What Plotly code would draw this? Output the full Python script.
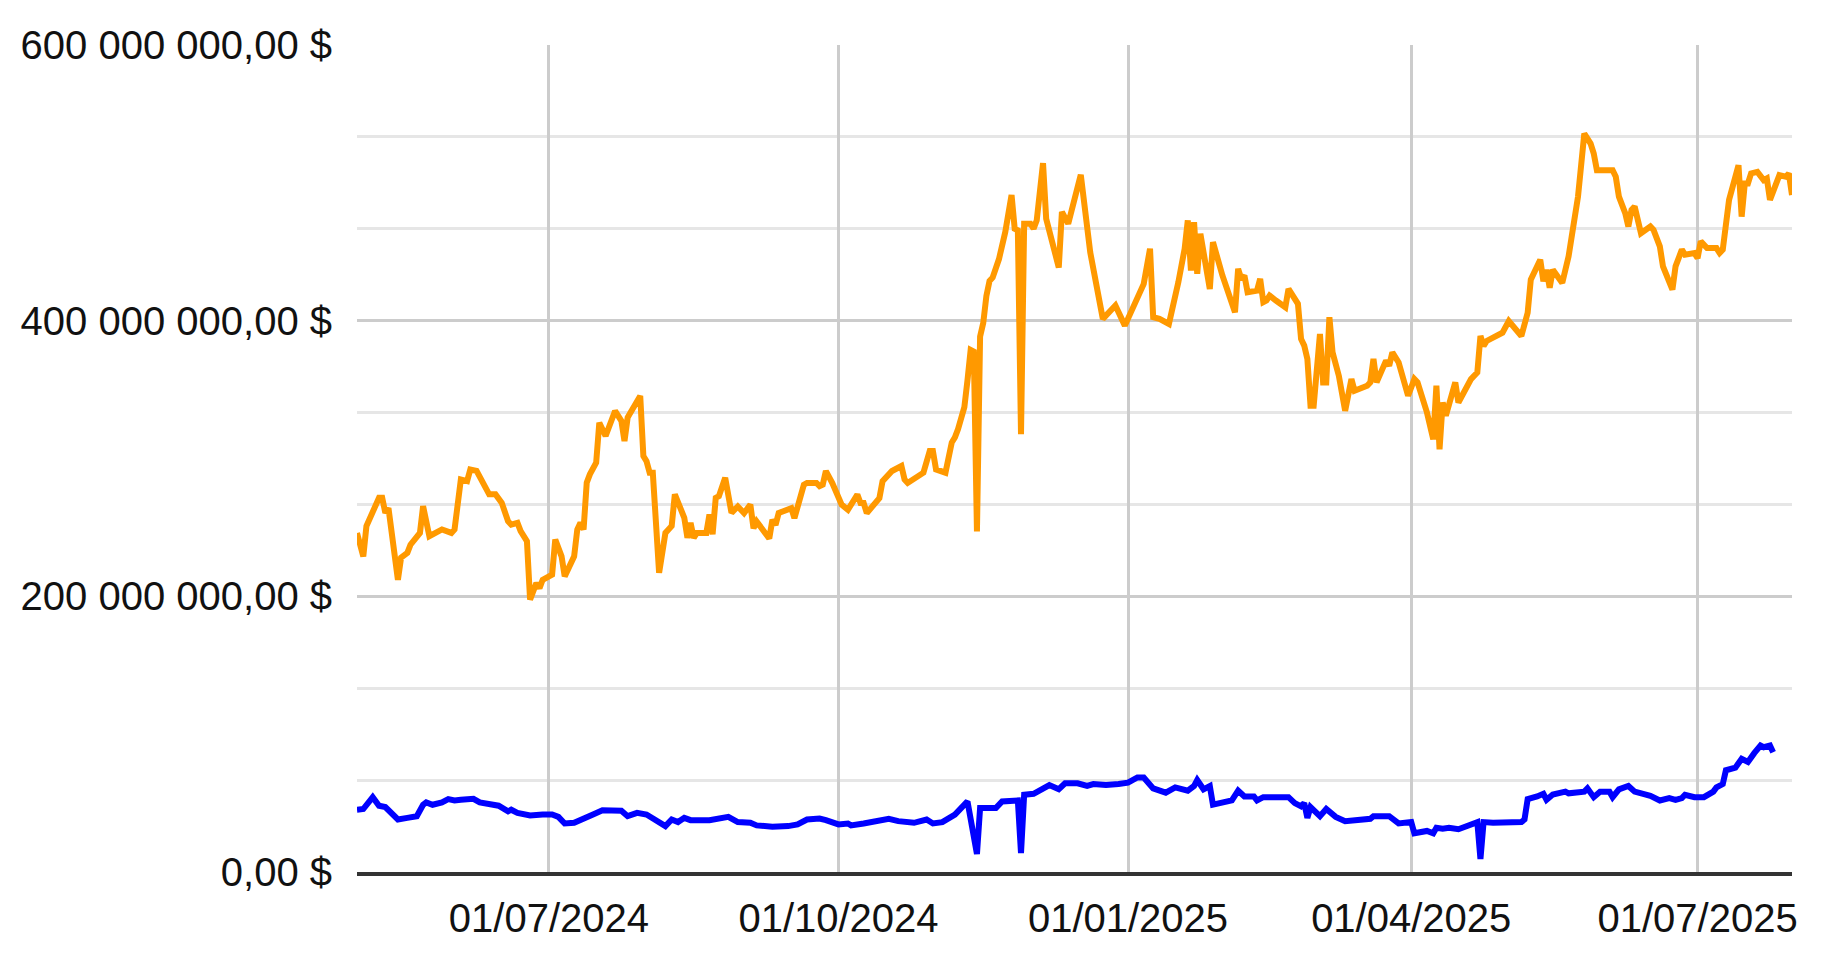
import plotly.graph_objects as go

# orange series (values in millions of $)
orange_dates = [
    "2024-05-01", "2024-05-03", "2024-05-04", "2024-05-06", "2024-05-08", "2024-05-09",
    "2024-05-10", "2024-05-11", "2024-05-14", "2024-05-15", "2024-05-17", "2024-05-18",
    "2024-05-21", "2024-05-22", "2024-05-23", "2024-05-24", "2024-05-28", "2024-05-31",
    "2024-06-01", "2024-06-03", "2024-06-05", "2024-06-06", "2024-06-08", "2024-06-10",
    "2024-06-12", "2024-06-14", "2024-06-16", "2024-06-18", "2024-06-19", "2024-06-21",
    "2024-06-22", "2024-06-24", "2024-06-25", "2024-06-27", "2024-06-28", "2024-06-29",
    "2024-07-02", "2024-07-03", "2024-07-05", "2024-07-06", "2024-07-09", "2024-07-10",
    "2024-07-11", "2024-07-12", "2024-07-13", "2024-07-14", "2024-07-16", "2024-07-17",
    "2024-07-18", "2024-07-19", "2024-07-22", "2024-07-24", "2024-07-25", "2024-07-26",
    "2024-07-30", "2024-07-31", "2024-08-01", "2024-08-02", "2024-08-03", "2024-08-05",
    "2024-08-07", "2024-08-09", "2024-08-10", "2024-08-12", "2024-08-13", "2024-08-14",
    "2024-08-15", "2024-08-16", "2024-08-17", "2024-08-20", "2024-08-21", "2024-08-22",
    "2024-08-23", "2024-08-24", "2024-08-26", "2024-08-28", "2024-08-30", "2024-09-01",
    "2024-09-03", "2024-09-04", "2024-09-05", "2024-09-09", "2024-09-10", "2024-09-11",
    "2024-09-12", "2024-09-16", "2024-09-17", "2024-09-20", "2024-09-21", "2024-09-24",
    "2024-09-25", "2024-09-26", "2024-09-27", "2024-09-29", "2024-10-02", "2024-10-04",
    "2024-10-07", "2024-10-08", "2024-10-09", "2024-10-10", "2024-10-14", "2024-10-15",
    "2024-10-16", "2024-10-18", "2024-10-21", "2024-10-22", "2024-10-23", "2024-10-28",
    "2024-10-30", "2024-10-31", "2024-11-01", "2024-11-04", "2024-11-06", "2024-11-07",
    "2024-11-08", "2024-11-10", "2024-11-11", "2024-11-12", "2024-11-13", "2024-11-14",
    "2024-11-15", "2024-11-16", "2024-11-17", "2024-11-18", "2024-11-19", "2024-11-21",
    "2024-11-23", "2024-11-25", "2024-11-26", "2024-11-27", "2024-11-28", "2024-11-29",
    "2024-12-01", "2024-12-02", "2024-12-03", "2024-12-05", "2024-12-06", "2024-12-10",
    "2024-12-11", "2024-12-13", "2024-12-17", "2024-12-20", "2024-12-24", "2024-12-28",
    "2024-12-31", "2025-01-03", "2025-01-06", "2025-01-08", "2025-01-09", "2025-01-11",
    "2025-01-14", "2025-01-17", "2025-01-19", "2025-01-20", "2025-01-21", "2025-01-22",
    "2025-01-23", "2025-01-24", "2025-01-26", "2025-01-27", "2025-01-28", "2025-01-31",
    "2025-02-04", "2025-02-05", "2025-02-06", "2025-02-07", "2025-02-08", "2025-02-11",
    "2025-02-12", "2025-02-13", "2025-02-14", "2025-02-15", "2025-02-17", "2025-02-20",
    "2025-02-21", "2025-02-24", "2025-02-25", "2025-02-26", "2025-02-27", "2025-02-28",
    "2025-03-01", "2025-03-03", "2025-03-04", "2025-03-05", "2025-03-06", "2025-03-07",
    "2025-03-09", "2025-03-11", "2025-03-13", "2025-03-14", "2025-03-18", "2025-03-19",
    "2025-03-20", "2025-03-21", "2025-03-24", "2025-03-25", "2025-03-26", "2025-03-28",
    "2025-03-31", "2025-04-02", "2025-04-03", "2025-04-06", "2025-04-08", "2025-04-09",
    "2025-04-10", "2025-04-11", "2025-04-12", "2025-04-15", "2025-04-16", "2025-04-20",
    "2025-04-22", "2025-04-23", "2025-04-24", "2025-04-25", "2025-04-30", "2025-05-02",
    "2025-05-06", "2025-05-08", "2025-05-09", "2025-05-12", "2025-05-13", "2025-05-14",
    "2025-05-15", "2025-05-16", "2025-05-19", "2025-05-21", "2025-05-22", "2025-05-24",
    "2025-05-26", "2025-05-28", "2025-05-29", "2025-05-30", "2025-06-04", "2025-06-05",
    "2025-06-06", "2025-06-08", "2025-06-09", "2025-06-10", "2025-06-11", "2025-06-13",
    "2025-06-16", "2025-06-17", "2025-06-19", "2025-06-20", "2025-06-23", "2025-06-24",
    "2025-06-26", "2025-06-27", "2025-06-30", "2025-07-01", "2025-07-02", "2025-07-04",
    "2025-07-07", "2025-07-08", "2025-07-09", "2025-07-11", "2025-07-14", "2025-07-15",
    "2025-07-16", "2025-07-17", "2025-07-18", "2025-07-20", "2025-07-22", "2025-07-23",
    "2025-07-24", "2025-07-27", "2025-07-29", "2025-07-30", "2025-07-31",
]
orange_values = [
    246, 229, 251, 262, 271.5, 271.5,
    260.6, 264, 212, 228, 231.5, 237.5,
    246, 265.4, 255.7, 243.6, 248.5, 246,
    248.5, 284.8, 283.6, 292, 291, 282.4,
    274, 274, 267.8, 254.5, 252, 253.3,
    247.3, 240, 197.6, 209.7, 206, 212,
    215.7, 241.2, 229, 214.5, 229, 248.5,
    253.3, 248.5, 282.4, 288.5, 297, 326,
    321, 316.3, 334.5, 327.3, 312.7, 329.7,
    345.4, 301.8, 298, 289.7, 289.7, 217,
    246, 251, 274, 262, 257, 242.4,
    253.3, 242.4, 246, 246, 259.4, 245,
    271.5, 272.7, 286, 260.6, 265.2, 260.4,
    266.5, 249.4, 254.3, 242, 255.5, 251.8,
    260.4, 264, 256.7, 281, 282.3, 282.3,
    280, 281, 290.9, 282.3, 266.5, 262.8,
    273.8, 267.7, 267.7, 260.4, 271.3, 283.5,
    286, 290.9, 294.5, 284.8, 282.3, 289.7,
    305.5, 305.5, 292.1, 289.7, 311.6, 315.3,
    321.4, 337.3, 356.8, 378.8, 377.6, 247,
    388.5, 398.3, 417.9, 428.9, 431.3, 444.7,
    464.3, 491.1, 466.7, 465.5, 317.7, 470.4,
    470.4, 466.7, 472.8, 514.3, 474, 438.6,
    478.9, 470.4, 505.8, 449.6, 401.3, 411,
    396.4, 411, 426.7, 452.2, 402.5, 401.3,
    397.6, 427.9, 452.2, 472.8, 436.4, 471.5,
    434, 463, 435.2, 423, 457, 432.8,
    406.1, 437.6, 430.3, 432.8, 420.6, 421.8,
    430.3, 413.4, 414.6, 418.2, 414.6, 409.7,
    423, 412.2, 386.7, 381.9, 372.2, 338.2,
    338.2, 390.3, 355.2, 355.2, 402.5, 377,
    360, 334.6, 357.6, 349.1, 352.8, 355.2,
    372.2, 355.2, 371, 367.3, 377, 369.7,
    345.5, 357.6, 355.2, 333.4, 314, 352.8,
    306.7, 340.6, 331, 355.2, 340.6, 357.6,
    362.4, 388.9, 381.6, 385.3, 391.3, 399.7,
    388.9, 405.7, 429.8, 444.2, 428.6, 437,
    423.8, 437, 427.4, 446.6, 461.1, 490,
    535.7, 528.5, 521.3, 509.2, 509.2, 504.4,
    490, 478, 468.3, 480.3, 482.8, 463.5,
    468.3, 465.9, 453.9, 439.4, 422.6, 439.4,
    451.5, 447.9, 449, 445.4, 457.5, 452.7,
    452.7, 449.1, 451.5, 487.6, 512.8, 475.5,
    499.6, 499.6, 506.8, 508, 502, 503.2,
    487.6, 505.6, 504.4, 506.8, 491.2,
]

# blue series (values in millions of $)
blue_dates = [
    "2024-05-01", "2024-05-03", "2024-05-06", "2024-05-08", "2024-05-10", "2024-05-14",
    "2024-05-17", "2024-05-20", "2024-05-22", "2024-05-23", "2024-05-25", "2024-05-28",
    "2024-05-30", "2024-06-01", "2024-06-03", "2024-06-07", "2024-06-09", "2024-06-12",
    "2024-06-15", "2024-06-18", "2024-06-19", "2024-06-21", "2024-06-25", "2024-06-29",
    "2024-07-02", "2024-07-04", "2024-07-06", "2024-07-09", "2024-07-11", "2024-07-12",
    "2024-07-15", "2024-07-18", "2024-07-22", "2024-07-24", "2024-07-26", "2024-07-29",
    "2024-08-01", "2024-08-04", "2024-08-07", "2024-08-09", "2024-08-11", "2024-08-13",
    "2024-08-15", "2024-08-21", "2024-08-23", "2024-08-27", "2024-08-30", "2024-09-03",
    "2024-09-05", "2024-09-10", "2024-09-15", "2024-09-18", "2024-09-21", "2024-09-25",
    "2024-09-27", "2024-10-01", "2024-10-04", "2024-10-05", "2024-10-09", "2024-10-13",
    "2024-10-17", "2024-10-20", "2024-10-25", "2024-10-29", "2024-10-31", "2024-11-03",
    "2024-11-07", "2024-11-11", "2024-11-14", "2024-11-15", "2024-11-20", "2024-11-22",
    "2024-11-27", "2024-11-28", "2024-11-29", "2024-12-02", "2024-12-07", "2024-12-10",
    "2024-12-12", "2024-12-16", "2024-12-19", "2024-12-21", "2024-12-25", "2024-12-29",
    "2025-01-01", "2025-01-04", "2025-01-06", "2025-01-09", "2025-01-13", "2025-01-16",
    "2025-01-20", "2025-01-22", "2025-01-23", "2025-01-25", "2025-01-27", "2025-01-28",
    "2025-01-31", "2025-02-03", "2025-02-05", "2025-02-07", "2025-02-10", "2025-02-11",
    "2025-02-13", "2025-02-21", "2025-02-23", "2025-02-25", "2025-02-26", "2025-02-27",
    "2025-02-28", "2025-03-03", "2025-03-05", "2025-03-08", "2025-03-11", "2025-03-17",
    "2025-03-19", "2025-03-20", "2025-03-25", "2025-03-28", "2025-04-01", "2025-04-02",
    "2025-04-06", "2025-04-08", "2025-04-09", "2025-04-11", "2025-04-13", "2025-04-16",
    "2025-04-20", "2025-04-22", "2025-04-23", "2025-04-24", "2025-04-27", "2025-05-01",
    "2025-05-06", "2025-05-07", "2025-05-08", "2025-05-11", "2025-05-13", "2025-05-14",
    "2025-05-16", "2025-05-20", "2025-05-21", "2025-05-26", "2025-05-27", "2025-05-29",
    "2025-05-31", "2025-06-03", "2025-06-04", "2025-06-06", "2025-06-09", "2025-06-11",
    "2025-06-14", "2025-06-16", "2025-06-19", "2025-06-22", "2025-06-24", "2025-06-26",
    "2025-06-27", "2025-06-30", "2025-07-03", "2025-07-06", "2025-07-07", "2025-07-09",
    "2025-07-10", "2025-07-13", "2025-07-15", "2025-07-17", "2025-07-19", "2025-07-21",
    "2025-07-22", "2025-07-24", "2025-07-25",
]
blue_values = [
    45.2, 45.7, 54.3, 48.1, 47.1, 38.1,
    39.3, 40.5, 48.8, 50.5, 48.8, 50.5,
    52.9, 51.9, 52.4, 53.1, 50.5, 48.8,
    48.1, 44, 45.2, 42.9, 41, 41.7,
    41.7, 40, 35.2, 35.7, 38.1, 38.6,
    41.7, 44.8, 44.5, 44.5, 40.5, 42.9,
    41.7, 38.1, 33.3, 38.1, 36.2, 39.3,
    37.6, 37.6, 38.6, 40, 36.2, 35.7,
    33.8, 32.9, 33.3, 34.5, 38.1, 38.8,
    37.6, 34.5, 35.2, 33.8, 35.2, 36.9,
    38.6, 36.9, 35.7, 38.1, 35.2, 36.2,
    41.7, 51.2, 13.1, 46.4, 46.4, 51.2,
    51.9, 13.8, 56, 56.7, 63.1, 60,
    64.3, 64.3, 62.4, 63.8, 63.1, 63.8,
    64.8, 68.6, 68.6, 60.7, 57.6, 61.4,
    59, 62.4, 66.7, 60, 62.4, 48.8,
    50.5, 51.9, 59, 54.8, 54.8, 51.9,
    54.3, 54.3, 50, 47.6, 50, 39.3,
    47.1, 40.5, 45.7, 40, 36.9, 37.6,
    38.6, 40.5, 40.5, 35.2, 36.2, 28.1,
    29.8, 28.1, 32.1, 31.4, 32.1, 31,
    33.8, 36.2, 9.5, 36.2, 35.7, 36.2,
    36.2, 38.1, 52.9, 54.8, 56.7, 52.4,
    56.2, 58.3, 57.1, 58.3, 60.7, 54.3,
    58.3, 58.3, 54.3, 60, 62.4, 58.3,
    57.1, 55.2, 51.9, 53.6, 52.4, 53.6,
    56, 54.3, 54.3, 58.3, 61.4, 63.8,
    73.8, 75.7, 82.1, 79.8, 86.2, 91.7,
    90.5, 91.7, 86.9,
]

x_range = ["2024-05-01", "2025-07-31"]
y_range = [0, 600]

fig = go.Figure()
fig.add_trace(go.Scatter(
    x=blue_dates, y=[v * 1e6 for v in blue_values],
    mode="lines", line=dict(color="#0000ff", width=6),
))
fig.add_trace(go.Scatter(
    x=orange_dates, y=[v * 1e6 for v in orange_values],
    mode="lines", line=dict(color="#ff9900", width=6),
))

fig.update_layout(
    width=1827, height=966,
    margin=dict(l=349, r=43, t=37, b=102),
    paper_bgcolor="white", plot_bgcolor="white",
    showlegend=False,
    separators=", ",
    font=dict(family="Liberation Sans, Arial, sans-serif", size=40, color="#111111"),
    xaxis=dict(
        range=x_range,
        tick0="2024-01-01", dtick="M3",
        tickformat="%d/%m/%Y",
        showgrid=True, gridcolor="#cccccc", gridwidth=2.5,
        showline=True, linecolor="#333333", linewidth=3.5,
        ticks="", zeroline=False, ticklabelstandoff=8,
    ),
    yaxis=dict(
        range=[y_range[0] * 1e6, y_range[1] * 1e6],
        tick0=0, dtick=200e6,
        tickformat=",.2f", ticksuffix=" $",
        showgrid=True, gridcolor="#cccccc", gridwidth=2.5,
        minor=dict(tick0=0, dtick=200e6 / 3, showgrid=True,
                   gridcolor="#e6e6e6", gridwidth=2.5),
        zeroline=False, ticks="", ticklabelstandoff=24,
    ),
)

fig.write_html("out.html")
